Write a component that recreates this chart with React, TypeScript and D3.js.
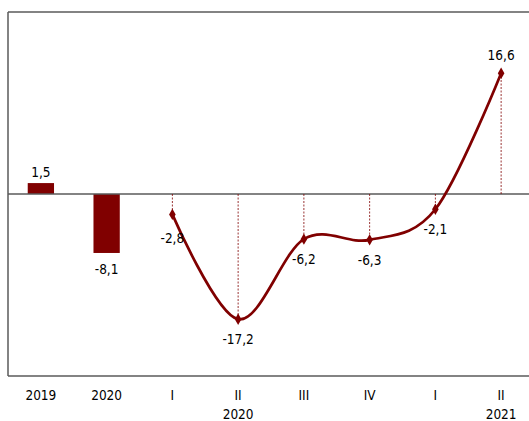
import React from 'react';
import * as d3 from 'd3';

// категории по оси X (первый ряд) и годы (второй ряд)
const categories = ['2019', '2020', 'I', 'II', 'III', 'IV', 'I', 'II'];
const yearLabels = ['', '', '', '2020', '', '', '', '2021'];

// годовые столбцы
const barIndex = [0, 1];
const barValues = [1.5, -8.1];

// квартальная линия
const lineIndex = [2, 3, 4, 5, 6, 7];
const lineValues = [-2.8, -17.2, -6.2, -6.3, -2.1, 16.6];

const WIDTH = 529;
const HEIGHT = 421;
const margin = { top: 12, right: -5, bottom: 45, left: 8 };

const RED = '#800000';
const FRAME = '#5a5a5a';
const FONT = '"DejaVu Sans Condensed", "DejaVu Sans", sans-serif';

const fmt = (v: number) => String(v).replace('.', ',');

export default function App() {
  const x = d3
    .scaleBand<number>()
    .domain(categories.map((_, i) => i))
    .range([margin.left, WIDTH - margin.right])
    .paddingInner(0.6)
    .paddingOuter(0.3);

  // центр категории
  const cx = (i: number) => (x(i) || 0) + x.bandwidth() / 2;

  const y = d3
    .scaleLinear()
    .domain([-25, 25])
    .range([HEIGHT - margin.bottom, margin.top]);

  const pts = lineValues.map((v, k) => ({ i: lineIndex[k], v }));

  const line = d3
    .line<{ i: number; v: number }>()
    .x(d => cx(d.i))
    .y(d => y(d.v))
    .curve(d3.curveCatmullRom.alpha(0));

  const diamond = d3.symbol().type(d3.symbolDiamond).size(38)();

  const y0 = y(0);
  const left = margin.left;
  const right = WIDTH;

  return (
    <svg
      width={WIDTH}
      height={HEIGHT}
      style={{ position: 'absolute', left: 0, top: 0, background: '#fff' }}
      fontFamily={FONT}
      fontSize={13.5}
    >
      {/* рамка */}
      <line x1={left} x2={right} y1={y(25)} y2={y(25)} stroke={FRAME} strokeWidth={1.5} />
      <line x1={left} x2={right} y1={y(-25)} y2={y(-25)} stroke={FRAME} strokeWidth={1.5} />
      <line x1={left} x2={left} y1={y(25)} y2={y(-25)} stroke={FRAME} strokeWidth={1.5} />

      {/* столбцы */}
      {barValues.map((v, k) => {
        const i = barIndex[k];
        return (
          <g key={'b' + k}>
            <rect
              x={x(i)}
              width={x.bandwidth()}
              y={Math.min(y(v), y0)}
              height={Math.abs(y(v) - y0)}
              fill={RED}
            />
            <text
              x={cx(i)}
              y={v >= 0 ? y(v) - 11 : y(v) + 16}
              dy="0.35em"
              textAnchor="middle"
              fill="#000"
            >
              {fmt(v)}
            </text>
          </g>
        );
      })}

      {/* линия нуля */}
      <line x1={left} x2={right} y1={y0} y2={y0} stroke={FRAME} strokeWidth={1.5} />

      {/* пунктирные опускания к нулю */}
      {pts.map((d, k) => (
        <line
          key={'d' + k}
          x1={cx(d.i)}
          x2={cx(d.i)}
          y1={y0}
          y2={y(d.v)}
          stroke={RED}
          strokeWidth={0.8}
          strokeDasharray="2,1.5"
        />
      ))}

      <path d={line(pts) || ''} fill="none" stroke={RED} strokeWidth={2.7} />

      {pts.map((d, k) => (
        <g key={'p' + k}>
          <path d={diamond || ''} transform={`translate(${cx(d.i)},${y(d.v)})`} fill={RED} />
          <text
            x={cx(d.i)}
            y={d.v >= 0 ? y(d.v) - 18 : y(d.v) + (k === 0 ? 24 : 20)}
            dy="0.35em"
            textAnchor="middle"
            fill="#000"
          >
            {fmt(d.v)}
          </text>
        </g>
      ))}

      {/* подписи оси X */}
      {categories.map((c, i) => (
        <g key={'x' + i}>
          <text x={cx(i)} y={395} dy="0.35em" textAnchor="middle" fill="#000">
            {c}
          </text>
          {yearLabels[i] ? (
            <text x={cx(i)} y={414} dy="0.35em" textAnchor="middle" fill="#000">
              {yearLabels[i]}
            </text>
          ) : null}
        </g>
      ))}
    </svg>
  );
}
